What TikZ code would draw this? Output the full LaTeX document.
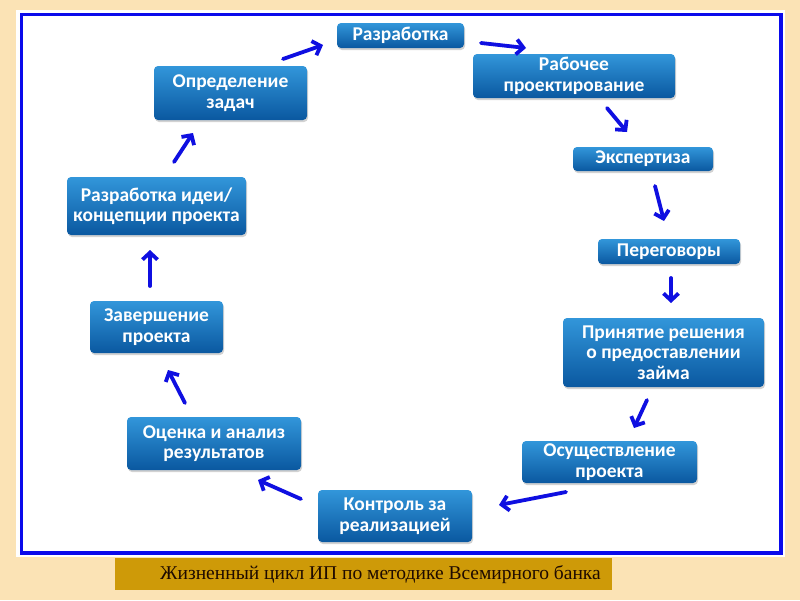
\documentclass[tikz,border=0pt]{standalone}
\usepackage{fontspec}
\setmainfont{Carlito}
\newfontfamily\capfont{Liberation Serif}
\usetikzlibrary{arrows.meta,shadows}
\definecolor{bgcol}{RGB}{251,227,181}
\definecolor{framecol}{RGB}{10,10,235}
\definecolor{boxtop}{RGB}{50,150,218}
\definecolor{boxbot}{RGB}{10,88,160}
\definecolor{arrcol}{RGB}{15,15,225}
\definecolor{capcol}{RGB}{206,154,8}
\tikzset{
  stage/.style={rounded corners=4pt, top color=boxtop, bottom color=boxbot, draw=none,
    drop shadow={opacity=0.35, shadow xshift=1pt, shadow yshift=-2pt},
    text=white, font=\bfseries\fontsize{19.5}{20.5}\selectfont, align=center, inner sep=0pt},
  flow/.style={draw=arrcol, line width=3.8pt, line cap=round, -{Straight Barb[length=7pt,width=15pt]}}
}
\begin{document}
\begin{tikzpicture}[x=1pt,y=-1pt]
\useasboundingbox (0,0) rectangle (800,600);
\fill[bgcol] (0,0) rectangle (800,600);
\fill[white] (16,10) rectangle (785,557);
\draw[framecol, line width=3.5pt] (21.5,14.5) rectangle (781,553);
\fill[capcol] (115,558) rectangle (612,590);
\node[anchor=west, font=\capfont\fontsize{19.5}{22}\selectfont, text={rgb,255:red,30;green,10;blue,0}, inner sep=0pt] (cap) at (160,574.5) {Жизненный цикл ИП по методике Всемирного банка};

\node[stage, minimum width=127pt, minimum height=25pt] (raz) at (400.5,35.5) {Разработка};
\node[stage, minimum width=202pt, minimum height=44pt] (rab) at (574,76) {Рабочее\\проектирование};
\node[stage, minimum width=140pt, minimum height=24pt] (eks) at (643,159) {Экспертиза};
\node[stage, minimum width=142pt, minimum height=25pt] (per) at (669,251.5) {Переговоры};
\node[stage, minimum width=201pt, minimum height=69pt] (pri) at (663.5,352.5) {Принятие решения\\о предоставлении\\займа};
\node[stage, minimum width=175pt, minimum height=42pt] (osu) at (609.5,462) {Осуществление\\проекта};
\node[stage, minimum width=154pt, minimum height=52pt] (kon) at (395,516) {Контроль за\\реализацией};
\node[stage, minimum width=174pt, minimum height=53pt] (oce) at (214,443.5) {Оценка и анализ\\результатов};
\node[stage, minimum width=133pt, minimum height=52pt] (zav) at (156.5,327) {Завершение\\проекта};
\node[stage, minimum width=179pt, minimum height=58pt] (ide) at (156.5,206) {Разработка идеи/\\концепции проекта};
\node[stage, minimum width=153pt, minimum height=54pt] (opr) at (230.5,93) {Определение\\задач};

\coordinate (a1s) at (283,59); \coordinate (a1e) at (323,45);
\coordinate (a2s) at (481,43); \coordinate (a2e) at (526,48);
\coordinate (a3s) at (607,108); \coordinate (a3e) at (627,132);
\coordinate (a4s) at (655,186); \coordinate (a4e) at (664,221);
\coordinate (a5s) at (671,278); \coordinate (a5e) at (671,303);
\coordinate (a6s) at (647,400); \coordinate (a6e) at (634,428);
\coordinate (a7s) at (566,492); \coordinate (a7e) at (499,505);
\coordinate (a8s) at (301,499); \coordinate (a8e) at (258,480);
\coordinate (a9s) at (185,403); \coordinate (a9e) at (168,370);
\coordinate (a10s) at (150,286); \coordinate (a10e) at (150,250);
\coordinate (a11s) at (174,162); \coordinate (a11e) at (193,133);

\draw[flow] (a1s) -- (a1e);
\draw[flow] (a2s) -- (a2e);
\draw[flow] (a3s) -- (a3e);
\draw[flow] (a4s) -- (a4e);
\draw[flow] (a5s) -- (a5e);
\draw[flow] (a6s) -- (a6e);
\draw[flow] (a7s) -- (a7e);
\draw[flow] (a8s) -- (a8e);
\draw[flow] (a9s) -- (a9e);
\draw[flow] (a10s) -- (a10e);
\draw[flow] (a11s) -- (a11e);
\end{tikzpicture}
\end{document}
